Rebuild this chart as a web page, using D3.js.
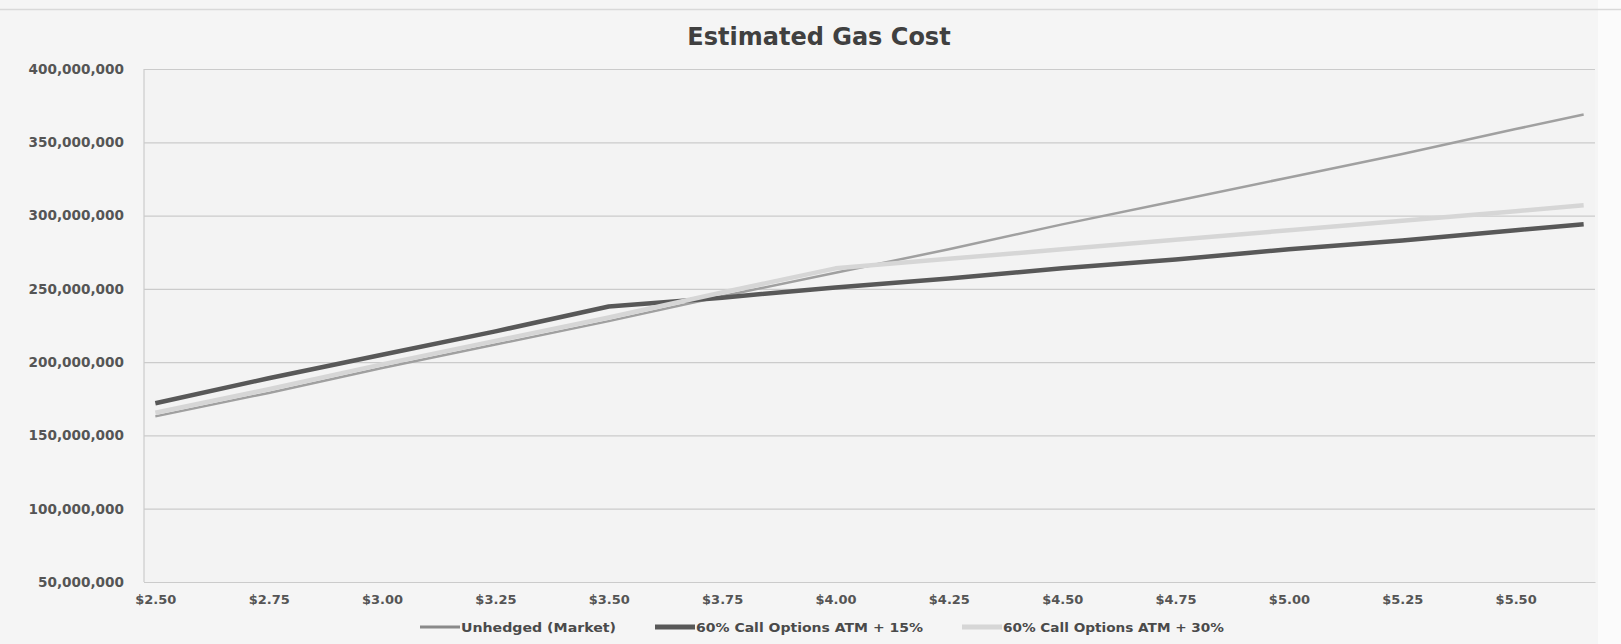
<!DOCTYPE html>
<html>
<head>
<meta charset="utf-8">
<script src="https://cdn.jsdelivr.net/npm/d3@7"></script>
<style>
  body { margin: 0; background: #f4f4f4; }
  svg { display: block; }
</style>
</head>
<body>
<div id="gas_cost"></div>
<script>
 //Data (gas price per MMBtu, cost in $)
 var prices = [2.50, 2.75, 3.00, 3.25, 3.50, 3.75, 4.00, 4.25, 4.50, 4.75, 5.00, 5.25, 5.50, 5.65];
 var unhedged = [163e6, 179e6, 196e6, 212e6, 228e6, 245e6, 261e6, 277e6, 294e6, 310e6, 326e6, 342e6, 359e6, 369e6];
 var atm15 = [172e6, 189e6, 205e6, 221e6, 238e6, 244e6, 251e6, 257e6, 264e6, 270e6, 277e6, 283e6, 290e6, 294e6];
 var atm30 = [165.5e6, 181.5e6, 198.5e6, 214.5e6, 230.5e6, 247.5e6, 264e6, 270.5e6, 277e6, 283.5e6, 290e6, 296.5e6, 303e6, 307e6];
 var xTicks = [2.50, 2.75, 3.00, 3.25, 3.50, 3.75, 4.00, 4.25, 4.50, 4.75, 5.00, 5.25, 5.50];
 var yTicks = [50e6, 100e6, 150e6, 200e6, 250e6, 300e6, 350e6, 400e6];
 var seriesNames = ["Unhedged (Market)", "60% Call Options ATM + 15%", "60% Call Options ATM + 30%"];

 //Margins and dimensions
 var W = 1621, H = 644;
 var margin = { top: 69, right: 26, bottom: 62, left: 144 },
     width = W - margin.left - margin.right,
     height = H - margin.top - margin.bottom;

 var root = d3.select("#gas_cost")
     .append("svg")
     .attr("width", W)
     .attr("height", H);

 root.append("rect").attr("width", W).attr("height", H).attr("fill", "#f5f5f5");
 root.append("rect").attr("x", 1598).attr("width", W - 1598).attr("height", H).attr("fill", "#fbfbfb");
 root.append("line")
     .attr("x1", 0).attr("x2", W).attr("y1", 9.5).attr("y2", 9.5)
     .attr("stroke", "#d9d9d9").attr("stroke-width", 1.5);

 var svg = root.append("g")
     .attr("transform", "translate(" + margin.left + "," + margin.top + ")");

 //Scales (category axis, half a $0.05 step of padding on each side)
 var x = d3.scaleLinear()
     .domain([2.475, 5.675])
     .range([0, width]);
 var y = d3.scaleLinear()
     .domain([50e6, 400e6])
     .range([height, 0]);

 svg.append("rect").attr("width", width).attr("height", height).attr("fill", "#f3f3f3");

 //Gridlines + Y axis
 var yAxis = svg.append("g")
     .call(d3.axisLeft(y).tickValues(yTicks).tickSize(-width).tickPadding(20)
         .tickFormat(d3.format(",")));
 yAxis.select(".domain").remove();
 yAxis.selectAll(".tick line").attr("stroke", "#cbcbcb").attr("stroke-width", 1.2);
 yAxis.selectAll(".tick text")
     .style("font-family", "DejaVu Sans")
     .style("font-weight", "bold")
     .style("font-size", "13.6px")
     .attr("fill", "#555");

 svg.append("line")
     .attr("x1", 0).attr("x2", 0).attr("y1", 0).attr("y2", height)
     .attr("stroke", "#cbcbcb").attr("stroke-width", 1.2);

 //X axis
 var xAxis = svg.append("g")
     .attr("transform", "translate(0," + height + ")")
     .call(d3.axisBottom(x).tickValues(xTicks).tickSize(0).tickPadding(13)
         .tickFormat(function (d) { return "$" + d.toFixed(2); }));
 xAxis.select(".domain").attr("stroke", "#cbcbcb").attr("stroke-width", 1.2);
 xAxis.selectAll(".tick text")
     .style("font-family", "DejaVu Sans")
     .style("font-weight", "bold")
     .style("font-size", "13px")
     .attr("fill", "#555");

 //Lines
 var styles = [
     { color: "#a0a0a0", w: 2.5 },
     { color: "#585858", w: 4.5 },
     { color: "#d6d6d6", w: 4.5 }
 ];
 var series = [unhedged, atm15, atm30];
 var line = d3.line()
     .x(function (d, i) { return x(prices[i]); })
     .y(function (d) { return y(d); });

 series.forEach(function (s, k) {
     svg.append("path")
         .datum(s)
         .attr("fill", "none")
         .attr("stroke", styles[k].color)
         .attr("stroke-width", styles[k].w)
         .attr("stroke-linejoin", "round")
         .attr("d", line);
 });

 //Title
 root.append("text")
     .attr("x", 819)
     .attr("y", 45)
     .attr("text-anchor", "middle")
     .style("font-family", "DejaVu Sans")
     .style("font-weight", "bold")
     .style("font-size", "24px")
     .attr("fill", "#404040")
     .text("Estimated Gas Cost");

 //Legend
 var legendWidths = [155, 227, 221];
 var legend = root.append("g").attr("transform", "translate(420,627)");
 var lx = 0;
 seriesNames.forEach(function (name, k) {
     legend.append("line")
         .attr("x1", lx).attr("x2", lx + 40)
         .attr("stroke", k == 0 ? "#8a8a8a" : styles[k].color)
         .attr("stroke-width", k == 0 ? 3 : 5);
     legend.append("text")
         .attr("x", lx + 41)
         .attr("dy", "0.35em")
         .attr("textLength", legendWidths[k])
         .attr("lengthAdjust", "spacingAndGlyphs")
         .style("font-family", "DejaVu Sans")
         .style("font-weight", "bold")
         .style("font-size", "13px")
         .attr("fill", "#4a4a4a")
         .text(name);
     lx += 41 + legendWidths[k] + 39;
 });
</script>
</body>
</html>
